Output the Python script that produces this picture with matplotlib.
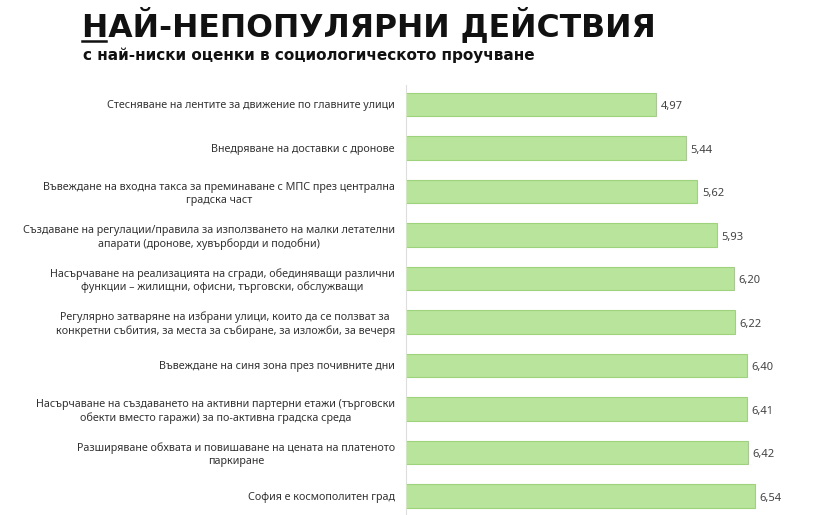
import numpy as np
import matplotlib
matplotlib.use('Agg')
import matplotlib.pyplot as plt

plt.rcParams['font.family'] = ['Noto Sans', 'DejaVu Sans']

labels = [
    'Стесняване на лентите за движение по главните улици',
    'Внедряване на доставки с дронове',
    'Въвеждане на входна такса за преминаване с МПС през централна\nградска част',
    'Създаване на регулации/правила за използването на малки летателни\nапарати (дронове, хувърборди и подобни)',
    'Насърчаване на реализацията на сгради, обединяващи различни\nфункции – жилищни, офисни, търговски, обслужващи',
    'Регулярно затваряне на избрани улици, които да се ползват за\nконкретни събития, за места за събиране, за изложби, за вечеря',
    'Въвеждане на синя зона през почивните дни',
    'Насърчаване на създаването на активни партерни етажи (търговски\nобекти вместо гаражи) за по-активна градска среда',
    'Разширяване обхвата и повишаване на цената на платеното\nпаркиране',
    'София е космополитен град',
]
values = [4.97, 5.44, 5.62, 5.93, 6.20, 6.22, 6.40, 6.41, 6.42, 6.54]

W, H = 822, 515
fig = plt.figure(figsize=(W / 100, H / 100), dpi=100)
ax = fig.add_axes([406 / W, 0, (W - 406) / W, 1 - 85 / H])

y = np.arange(len(values))
ax.barh(y, np.array(values) - 1, left=1, height=0.53,
        color='#b9e49b', edgecolor='#9fd27c', linewidth=0.8)

for yi, v in zip(y, values):
    ax.text(v + 0.07, yi + 0.05, ('%.2f' % v).replace('.', ','),
            va='center', ha='left', fontsize=8, color='#444444')

ax.set_xlim(1, 1 + (W - 406) / 63.06)
ax.set_ylim(9.437, -0.448)
ax.set_yticks(y)
ax.set_yticklabels(labels, fontsize=7.75, color='#333333', multialignment='center')
ax.tick_params(axis='y', length=0, pad=8)
ax.set_xticks([])
for s in ['top', 'right', 'bottom']:
    ax.spines[s].set_visible(False)
ax.spines['left'].set_color('#dddddd')
ax.spines['left'].set_linewidth(0.8)

title = fig.text(82 / W, 1 - 36 / H, 'НАЙ-НЕПОПУЛЯРНИ ДЕЙСТВИЯ',
                 fontsize=21, fontweight='bold', family='DejaVu Sans',
                 color='#111111', ha='left', va='baseline')
sub = fig.text(83 / W, 1 - 60 / H, 'с най-ниски оценки в социологическото проучване',
               fontsize=10.5, fontweight='bold', family='DejaVu Sans',
               color='#111111', ha='left', va='baseline')

# fit title widths to the reference
r = fig.canvas.get_renderer()
for t, target in [(title, 573), (sub, 453)]:
    w = t.get_window_extent(r).width
    t.set_fontsize(t.get_fontsize() * target / w)

fig.add_artist(plt.Line2D([82 / W, 106 / W], [1 - 40.5 / H, 1 - 40.5 / H],
                          color='#111111', linewidth=1.8))

fig.savefig('out.png', dpi=100)
